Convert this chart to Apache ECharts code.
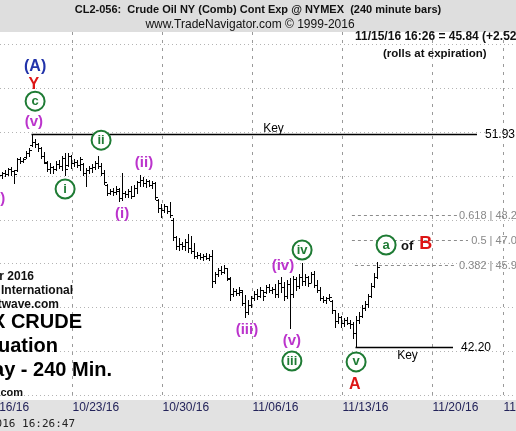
<!DOCTYPE html>
<html><head><meta charset="utf-8">
<script src="https://cdn.jsdelivr.net/npm/echarts@6/dist/echarts.min.js"></script>
<style>html,body{margin:0;padding:0;background:#fff}#c{width:516px;height:431px}</style>
</head><body><div id="c"></div>
<script>
// ---------- DATA ----------
const highs = [50.17,50.27,50.36,50.40,50.27,50.81,50.86,50.81,51.13,51.27,
51.93,51.68,51.50,51.32,51.09,50.68,50.58,50.45,50.68,50.72,
50.90,51.04,51.04,50.95,50.77,50.72,50.86,50.58,50.36,50.45,
50.54,50.68,50.90,50.58,50.27,49.63,49.40,49.44,49.53,49.44,
50.13,49.31,49.40,49.53,49.58,49.76,50.04,49.95,49.85,49.81,
49.76,49.72,48.94,48.71,48.71,48.62,48.80,48.07,47.25,47.16,
46.98,47.11,47.34,47.25,46.93,46.52,46.48,46.43,46.48,46.43,
46.61,45.61,45.79,45.88,45.93,45.79,45.38,44.88,44.83,44.92,
44.79,44.56,44.33,44.51,44.74,44.83,44.92,44.79,45.01,45.06,
44.92,45.06,45.24,45.38,45.15,45.24,45.33,45.42,45.38,45.52,
46.02,45.52,45.42,45.61,45.65,45.24,44.92,44.51,44.47,44.60,
44.33,43.87,43.74,43.60,43.51,43.55,43.42,43.32,43.60,43.78,
44.10,44.28,44.60,45.11,45.56,46.06];
const lows = [49.90,49.99,50.04,50.04,49.67,50.22,50.58,50.63,50.81,50.90,
51.36,51.32,51.13,50.81,50.58,50.22,50.13,50.13,50.27,50.36,
50.27,50.04,50.45,50.36,50.45,50.40,50.27,50.04,49.53,50.13,
50.17,50.31,50.36,50.04,49.63,49.12,49.17,49.12,49.17,48.85,
48.90,49.03,49.03,48.99,49.08,49.22,49.53,49.53,49.49,49.53,
49.44,48.94,48.35,48.12,48.35,48.30,48.12,47.07,46.66,46.61,
46.66,46.61,46.52,46.48,46.25,46.25,46.20,46.16,46.20,46.16,
44.92,45.11,45.42,45.52,45.56,45.24,44.33,44.51,44.56,44.56,
44.10,43.55,43.69,44.01,44.33,44.37,44.47,44.33,44.65,44.69,
44.65,44.47,44.47,44.69,44.33,44.42,43.05,44.47,44.79,44.88,
45.01,45.01,44.97,45.15,44.92,44.69,44.33,44.24,44.19,44.33,
43.74,43.10,43.28,43.10,43.14,43.23,43.05,42.59,42.20,43.28,
43.55,43.87,44.01,44.47,44.92,45.33];
const opens = [50.05,50.15,50.10,50.30,50.20,50.25,50.75,50.70,50.85,51.05,
51.40,51.55,51.45,51.25,50.90,50.60,50.30,50.40,50.30,50.55,
50.45,50.80,50.50,50.90,50.60,50.65,50.50,50.55,50.15,50.25,
50.35,50.40,50.60,50.45,50.15,49.60,49.20,49.30,49.25,49.30,
49.00,49.20,49.15,49.30,49.10,49.45,49.70,49.80,49.65,49.75,
49.60,49.65,48.90,48.55,48.45,48.60,48.40,48.00,47.20,46.80,
46.90,46.80,47.00,46.70,46.55,46.35,46.40,46.30,46.35,46.25,
46.35,45.20,45.50,45.70,45.60,45.80,45.30,44.60,44.75,44.65,
44.70,44.20,43.80,44.10,44.40,44.60,44.50,44.80,44.70,44.90,
44.80,44.85,44.60,45.10,44.90,44.50,45.05,44.60,45.30,44.95,
45.40,45.20,45.40,45.10,45.50,45.00,44.80,44.40,44.35,44.40,
44.30,43.85,43.35,43.55,43.30,43.40,43.30,43.25,42.80,43.40,
43.60,43.95,44.15,44.50,44.95,45.40];
const closes = [50.15,50.10,50.30,50.20,50.10,50.75,50.70,50.75,51.05,51.20,
51.55,51.45,51.25,50.90,50.65,50.30,50.40,50.30,50.55,50.45,
50.80,50.30,50.90,50.60,50.65,50.50,50.75,50.15,50.25,50.35,
50.40,50.60,50.45,50.15,49.70,49.20,49.30,49.25,49.40,49.00,
49.20,49.15,49.30,49.10,49.45,49.70,49.80,49.65,49.75,49.60,
49.65,49.05,48.55,48.45,48.60,48.40,48.20,47.20,46.80,46.90,
46.80,47.00,46.70,46.55,46.35,46.40,46.30,46.35,46.25,46.35,
45.20,45.50,45.70,45.60,45.80,45.35,44.60,44.75,44.65,44.80,
44.20,43.80,44.10,44.40,44.60,44.50,44.80,44.50,44.90,44.80,
44.85,44.60,45.10,44.90,44.50,45.05,44.60,45.30,44.95,45.40,
45.20,45.40,45.10,45.50,45.00,44.80,44.40,44.35,44.40,44.45,
43.85,43.35,43.55,43.30,43.40,43.30,43.25,42.80,43.40,43.60,
43.95,44.15,44.50,44.95,45.40,45.84];

const weekLabels = ['10/16/16','10/23/16','10/30/16','11/06/16','11/13/16','11/20/16','11/27/16'];
const weekPos = [-6.5, 23.5, 53.5, 83.5, 113.5, 143.5, 167.2];   // bar-index position of each week start
const gridPrices = [40, 42, 44, 46, 48, 50, 52, 54, 56];
const keyPrices = [51.93, 42.20];
const keyStart = [10, 118];
const keyEnd = [158.5, 150.5];
const fibRatios = ['0.618', '0.5', '0.382'];
const fibPrices = [48.21, 47.07, 45.92];
const fibStart = [116.8, 116.8, 117.8];
const fibEnd = [151.8, 155.5, 151.5];

// wave annotations: text, bar index, price, kind
const waveText  = ['(A)','Y','c','(v)','(v)','ii','i','(ii)','(i)','(iii)','iv','(iv)','(v)','iii','v','A','a','of','B'];
const waveIdx   = [11.2,10.8,11.2,10.8,-1.8,33.2,21.2,47.5,40.2,81.8,100.2,93.8,96.8,96.8,118.2,117.8,128.2,135.2,141.4];
const wavePrice = [55.01,54.19,53.41,52.46,48.94,51.63,49.40,50.58,48.26,42.96,46.61,45.88,42.46,41.54,41.50,40.45,46.84,46.79,46.89];
const waveKind  = ['blue','red','circ','mag','mag','circ','circ','mag','mag','mag','circ','mag','mag','circ','circ','red','circ','black','redBig'];

// ---------- STYLES ----------
const FONT = "'Liberation Sans', Arial, sans-serif";
const GREEN = '#1e7b34', MAG = '#bb33cc', BLUE = '#2233aa', RED = '#dd1515';

const chart = echarts.init(document.getElementById('c'), null, {renderer: 'canvas'});

function txt(o) {
  return Object.assign({textAlign: o.align, textVerticalAlign: o.verticalAlign}, o);
}

const ohlc = highs.map((h, i) => [i, opens[i], h, lows[i], closes[i]]);

const option = {
  animation: false,
  backgroundColor: '#fff',
  grid: {left: 0, right: 0, top: 32, bottom: 31},
  xAxis: {type: 'value', min: -0.5, max: 171.5, show: false},
  yAxis: {type: 'value', min: 39.76, max: 56.57, show: false},
  graphic: [
    {type: 'rect', shape: {x: 0, y: 0, width: 516, height: 32}, style: {fill: '#dedede'}, z: 0},
    {type: 'rect', shape: {x: 0, y: 400, width: 516, height: 31}, style: {fill: '#e2e2e2'}, z: 0},
    {type: 'text', x: 258, y: 10, style: txt({text: 'CL2-056:  Crude Oil NY (Comb) Cont Exp @ NYMEX  (240 minute bars)', font: 'bold 11px ' + FONT, fill: '#111', align: 'center', verticalAlign: 'middle'}), z: 10},
    {type: 'text', x: 250, y: 25, style: txt({text: 'www.TradeNavigator.com \u00a9 1999-2016', font: '12px ' + FONT, fill: '#111', align: 'center', verticalAlign: 'middle'}), z: 10},
    {type: 'text', x: 355, y: 37, style: txt({text: '11/15/16 16:26 = 45.84 (+2.52)', font: 'bold 12px ' + FONT, fill: '#111', align: 'left', verticalAlign: 'middle'}), z: 10},
    {type: 'text', x: 383, y: 54, style: txt({text: '(rolls at expiration)', font: 'bold 11.5px ' + FONT, fill: '#111', align: 'left', verticalAlign: 'middle'}), z: 10},
    {type: 'text', x: 34, y: 277, style: txt({text: 'November 2016', font: 'bold 12px ' + FONT, fill: '#111', align: 'right', verticalAlign: 'middle'}), z: 10},
    {type: 'text', x: 73, y: 291, style: txt({text: 'Elliott Wave International', font: 'bold 12px ' + FONT, fill: '#111', align: 'right', verticalAlign: 'middle'}), z: 10},
    {type: 'text', x: 59, y: 305, style: txt({text: 'www.elliottwave.com', font: 'bold 12px ' + FONT, fill: '#111', align: 'right', verticalAlign: 'middle'}), z: 10},
    {type: 'text', x: 82, y: 322, style: txt({text: 'NYMEX CRUDE', font: 'bold 20px ' + FONT, fill: '#000', align: 'right', verticalAlign: 'middle'}), z: 10},
    {type: 'text', x: 58, y: 346, style: txt({text: 'Situation', font: 'bold 20px ' + FONT, fill: '#000', align: 'right', verticalAlign: 'middle'}), z: 10},
    {type: 'text', x: 112, y: 370, style: txt({text: 'Intraday - 240 Min.', font: 'bold 20px ' + FONT, fill: '#000', align: 'right', verticalAlign: 'middle'}), z: 10},
    {type: 'text', x: 23, y: 393, style: txt({text: 'www.elliottwave.com', font: 'bold 11px ' + FONT, fill: '#111', align: 'right', verticalAlign: 'middle'}), z: 10},
    {type: 'text', x: 75, y: 424, style: txt({text: '11/15/2016 16:26:47', font: "11px 'DejaVu Sans Mono', monospace", fill: '#222', align: 'right', verticalAlign: 'middle'}), z: 10}
  ],
  series: [
    { // horizontal dotted grid
      type: 'custom', silent: true, z: 1, clip: false,
      data: gridPrices.map(p => [0, p]),
      renderItem(params, api) {
        const cs = params.coordSys;
        const y = Math.round(api.coord([0, api.value(1)])[1]) + 0.5;
        return {type: 'line', shape: {x1: cs.x, y1: y, x2: cs.x + cs.width, y2: y},
          style: {stroke: '#b4b4b4', lineWidth: 1, lineDash: [1, 3]}};
      }
    },
    { // vertical week grid + date labels
      type: 'custom', silent: true, z: 1, clip: false,
      data: weekPos.map((p, i) => [p, 50, i]),
      renderItem(params, api) {
        const cs = params.coordSys;
        const x = Math.round(api.coord([api.value(0), 50])[0]) + 0.5;
        return {type: 'group', children: [
          {type: 'line', shape: {x1: x, y1: cs.y, x2: x, y2: cs.y + cs.height},
            style: {stroke: '#9a9a9a', lineWidth: 1, lineDash: [3, 5]}},
          {type: 'text', style: txt({x: x, y: cs.y + cs.height + 8, text: weekLabels[api.value(2)],
            font: '12px ' + FONT, fill: '#23235a', align: 'left', verticalAlign: 'middle'})}
        ]};
      }
    },
    { // key levels
      type: 'custom', silent: true, z: 3, clip: false,
      data: keyPrices.map((p, i) => [keyStart[i], p, keyEnd[i], i]),
      renderItem(params, api) {
        const a = api.coord([api.value(0), api.value(1)]);
        const b = api.coord([api.value(2), api.value(1)]);
        const y = Math.round(a[1]) + 0.5;
        const i = api.value(3);
        const label = api.value(1).toFixed(2);
        const keyX = i === 0 ? a[0] + 242 : a[0] + 52;
        const keyY = i === 0 ? y - 6 : y + 8;
        return {type: 'group', children: [
          {type: 'line', shape: {x1: a[0], y1: y, x2: b[0], y2: y}, style: {stroke: '#000', lineWidth: 1.5}},
          {type: 'text', style: txt({x: b[0] + 8, y: y, text: label, font: '12px ' + FONT, fill: '#000', align: 'left', verticalAlign: 'middle'})},
          {type: 'text', style: txt({x: keyX, y: keyY, text: 'Key', font: '12px ' + FONT, fill: '#000', align: 'center', verticalAlign: 'middle'})}
        ]};
      }
    },
    { // fibonacci levels
      type: 'custom', silent: true, z: 3, clip: false,
      data: fibPrices.map((p, i) => [fibStart[i], p, fibEnd[i], i]),
      renderItem(params, api) {
        const a = api.coord([api.value(0), api.value(1)]);
        const b = api.coord([api.value(2), api.value(1)]);
        const y = Math.round(a[1]) + 0.5;
        const i = api.value(3);
        return {type: 'group', children: [
          {type: 'line', shape: {x1: a[0], y1: y, x2: b[0], y2: y}, style: {stroke: '#8c8c8c', lineWidth: 1, lineDash: [3, 3]}},
          {type: 'text', style: txt({x: 523, y: y, text: fibRatios[i] + ' | ' + api.value(1).toFixed(2), font: '11px ' + FONT, fill: '#888', align: 'right', verticalAlign: 'middle'})}
        ]};
      }
    },
    { // OHLC bars
      type: 'custom', z: 4,
      data: ohlc,
      renderItem(params, api) {
        const i = api.value(0);
        const ph = api.coord([i, api.value(2)]);
        const pl = api.coord([i, api.value(3)]);
        const po = api.coord([i, api.value(1)]);
        const pc = api.coord([i, api.value(4)]);
        const X = Math.round(ph[0]) + 0.5;
        const yo = Math.round(po[1]) + 0.5, yc = Math.round(pc[1]) + 0.5;
        const st = {stroke: '#000', lineWidth: 1};
        return {type: 'group', children: [
          {type: 'line', shape: {x1: X, y1: Math.round(ph[1]), x2: X, y2: Math.round(pl[1]) + 1}, style: st},
          {type: 'line', shape: {x1: X - 2.5, y1: yo, x2: X, y2: yo}, style: st},
          {type: 'line', shape: {x1: X, y1: yc, x2: X + 2.5, y2: yc}, style: st}
        ]};
      }
    },
    { // wave labels
      type: 'custom', silent: true, z: 6, clip: false,
      data: waveText.map((t, i) => [waveIdx[i], wavePrice[i], i]),
      renderItem(params, api) {
        const p = api.coord([api.value(0), api.value(1)]);
        const i = api.value(2);
        const kind = waveKind[i], t = waveText[i];
        if (kind === 'circ') {
          return {type: 'group', children: [
            {type: 'circle', shape: {cx: p[0], cy: p[1], r: 9.5}, style: {fill: '#fff', stroke: GREEN, lineWidth: 2}},
            {type: 'text', style: txt({x: p[0], y: p[1], text: t, font: 'bold 13px ' + FONT, fill: GREEN, align: 'center', verticalAlign: 'middle'})}
          ]};
        }
        const map = {
          blue: ['bold 16px ', BLUE], red: ['bold 16px ', RED], redBig: ['bold 18px ', RED],
          mag: ['bold 15px ', MAG], black: ['bold 13px ', '#111']
        };
        const m = map[kind];
        return {type: 'text', style: txt({x: p[0], y: p[1], text: t, font: m[0] + FONT, fill: m[1], align: 'center', verticalAlign: 'middle'})};
      }
    }
  ]
};
chart.setOption(option);
</script>
</body></html>
